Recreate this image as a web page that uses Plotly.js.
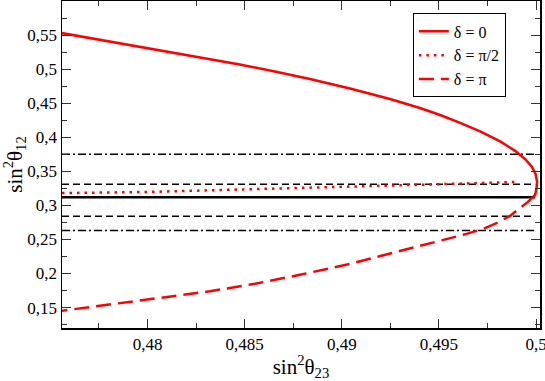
<!DOCTYPE html>
<html>
<head>
<meta charset="utf-8">
<script src="https://cdn.plot.ly/plotly-3.0.1.min.js"></script>
<style>
  html, body { margin: 0; padding: 0; background: #fff; }
  #chart { width: 545px; height: 381px; }
</style>
</head>
<body>
<div id="chart"></div>
<script>
// delta = 0 branch (upper, solid)
const s23Zero = [0.47559, 0.47780, 0.48000, 0.48244, 0.48475, 0.48655, 0.48836, 0.49042, 0.49248, 0.49402,
                 0.49506, 0.49609, 0.49712, 0.49815, 0.49892, 0.49943, 0.49979, 0.49997, 0.50005, 0.50002,
                 0.49995, 0.49984];
const s12Zero = [0.5529, 0.5419, 0.5309, 0.5192, 0.5068, 0.4965, 0.4855, 0.4716, 0.4562, 0.4430,
                 0.4327, 0.4210, 0.4085, 0.3939, 0.3800, 0.3682, 0.3565, 0.3463, 0.3346, 0.3243,
                 0.3155, 0.3125];

// delta = pi branch (lower, dashed)
const s23Pi = [0.49984, 0.49958, 0.49917, 0.49866, 0.49799, 0.49727, 0.49634, 0.49557, 0.49428, 0.49300,
               0.49171, 0.49042, 0.48785, 0.48553, 0.48321, 0.48064, 0.47806, 0.47559];
const s12Pi = [0.3125, 0.3051, 0.2963, 0.2846, 0.2743, 0.2655, 0.2575, 0.2519, 0.2421, 0.2323,
               0.2238, 0.2142, 0.1981, 0.1849, 0.1739, 0.1640, 0.1541, 0.1453];

// delta = pi/2 (dotted)
const s23Half = [0.4756, 0.4800, 0.4850, 0.4900, 0.4950, 0.4990];
const s12Half = [0.318, 0.3197, 0.3235, 0.327, 0.331, 0.3345];

// horizontal reference lines
const refX = [0.4756, 0.49995];
const refBest = 0.312;
const ref1Sigma = [0.331, 0.284];
const ref3Sigma = [0.375, 0.263];

const xTicks = [0.48, 0.485, 0.49, 0.495, 0.5];
const xTickText = ['0,48', '0,485', '0,49', '0,495', '0,5'];
const yTicks = [0.15, 0.2, 0.25, 0.3, 0.35, 0.4, 0.45, 0.5, 0.55];
const yTickText = ['0,15', '0,2', '0,25', '0,3', '0,35', '0,4', '0,45', '0,5', '0,55'];

const serif = 'Liberation Serif, Times New Roman, serif';

const hline = (v, dash, width) => ({
    x: refX,
    y: refX.map(() => v),
    type: 'scatter',
    mode: 'lines',
    showlegend: false,
    hoverinfo: 'skip',
    line: {color: '#000', dash: dash, width: width}
});

const traces = [
    hline(ref3Sigma[0], '8px,3px,2px,3px', 1.5),
    hline(ref3Sigma[1], '8px,3px,2px,3px', 1.5),
    hline(ref1Sigma[0], '7px,4px', 1.5),
    hline(ref1Sigma[1], '7px,4px', 1.5),
    hline(refBest, 'solid', 2.5),
    {
        x: s23Zero, y: s12Zero,
        type: 'scatter', mode: 'lines',
        name: 'δ = 0',
        line: {color: '#ff0000', width: 2.5}
    },
    {
        x: s23Half, y: s12Half,
        type: 'scatter', mode: 'lines',
        name: 'δ = π/2',
        line: {color: '#ff0000', width: 2.5, dash: '2.5px,5px'}
    },
    {
        x: s23Pi, y: s12Pi,
        type: 'scatter', mode: 'lines',
        name: 'δ = π',
        line: {color: '#ff0000', width: 2.5, dash: '15px,7px'}
    }
];

const axisCommon = {
    showline: true,
    linecolor: '#000',
    linewidth: 1.5,
    mirror: 'ticks',
    ticks: 'inside',
    ticklen: 9,
    tickwidth: 1,
    tickcolor: '#333',
    showgrid: false,
    zeroline: false,
    ticklabeloverflow: 'allow',
    tickfont: {family: serif, size: 17, color: '#000'}
};

const layout = {
    width: 545,
    height: 381,
    margin: {l: 62, r: 5, t: 1, b: 53},
    paper_bgcolor: '#fff',
    plot_bgcolor: '#fff',
    font: {family: serif, color: '#000'},
    xaxis: Object.assign({}, axisCommon, {
        range: [0.4756, 0.5002],
        tickmode: 'array',
        tickvals: xTicks,
        ticktext: xTickText,
        minor: {ticks: 'inside', ticklen: 5, tickcolor: '#333', tick0: 0, dtick: 0.0025},
        title: {text: 'sin<sup>2</sup>θ<sub>23</sub>', font: {family: serif, size: 21}, standoff: 12}
    }),
    yaxis: Object.assign({}, axisCommon, {
        range: [0.12, 0.6],
        tickmode: 'array',
        tickvals: yTicks,
        ticktext: yTickText,
        minor: {ticks: 'inside', ticklen: 5, tickcolor: '#333', tick0: 0, dtick: 0.025},
        title: {text: 'sin<sup>2</sup>θ<sub>12</sub>', font: {family: serif, size: 21}, standoff: 2}
    }),
    legend: {
        x: 0.734, y: 0.962,
        xanchor: 'left', yanchor: 'top',
        bordercolor: '#000', borderwidth: 1,
        bgcolor: '#fff',
        itemwidth: 30,
        font: {family: serif, size: 16},
        tracegroupgap: 0
    },
    showlegend: true
};

Plotly.newPlot('chart', traces, layout, {displayModeBar: false, staticPlot: true});
</script>
</body>
</html>
